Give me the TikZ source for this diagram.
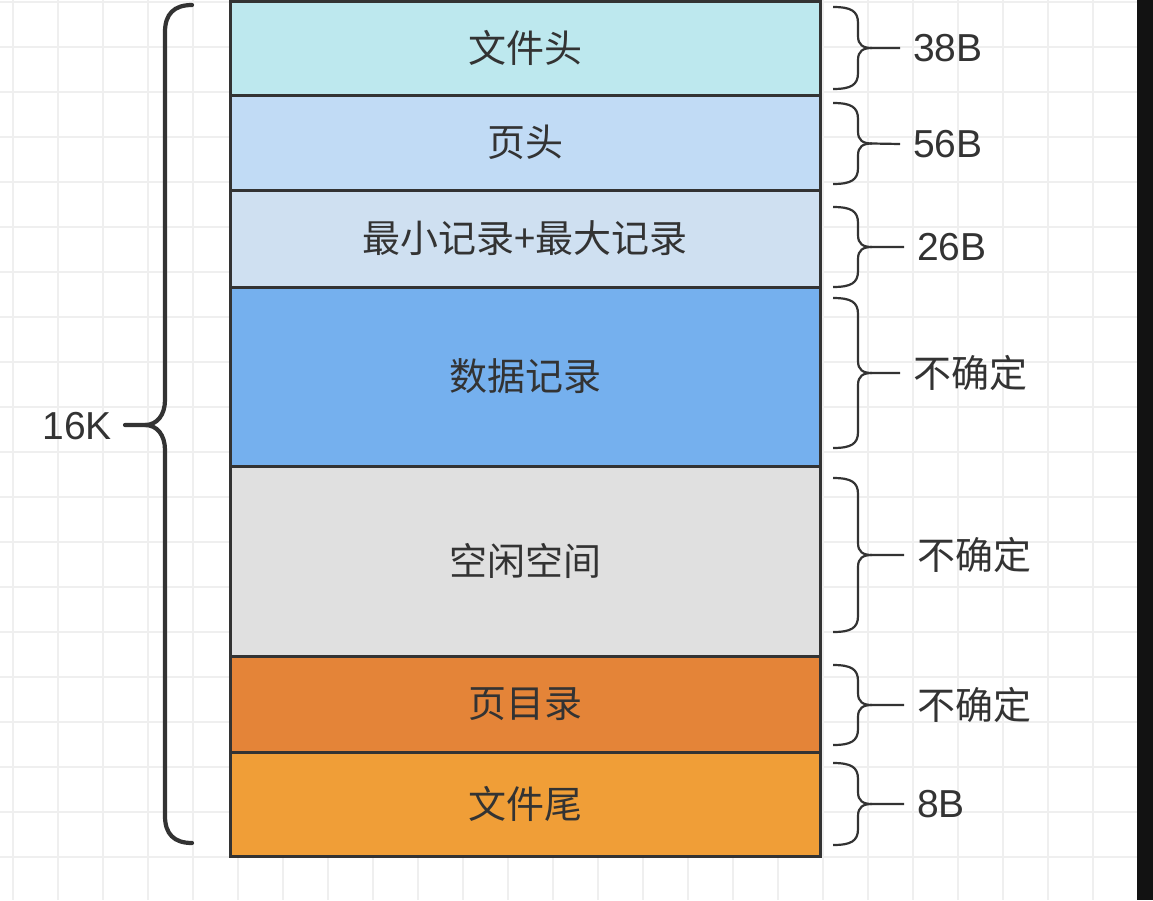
\documentclass[tikz,border=0pt]{standalone}
\usepackage{fontspec}
\setmainfont{Liberation Sans}
\newfontfamily\cjk{Noto Sans CJK SC}

\definecolor{linea}{HTML}{333333}
\definecolor{texto}{HTML}{333333}
\definecolor{rejilla}{HTML}{EFEFEF}
\definecolor{cabecera}{HTML}{BDE8EE}
\definecolor{pagina}{HTML}{C1DBF5}
\definecolor{minmax}{HTML}{CFE0F1}
\definecolor{datos}{HTML}{75B0EE}
\definecolor{libre}{HTML}{E0E0E0}
\definecolor{directorio}{HTML}{E48438}
\definecolor{cola}{HTML}{F09E37}

\tikzset{
  bloque/.style={draw=linea, line width=3pt, minimum width=590pt, inner sep=0pt,
    outer sep=0pt, text=texto, font=\cjk\fontsize{38}{44}\selectfont},
  llave/.style={draw=linea, line width=2.2pt},
  etiqueta/.style={anchor=west, inner sep=0pt, text=texto, font=\fontsize{39}{44}\selectfont},
  etiquetacjk/.style={etiqueta, font=\cjk\fontsize{38}{44}\selectfont}
}

% llave derecha: arriba, abajo, nodo de la etiqueta
\newcommand{\llave}[3]{%
  \draw[llave] (833,#1) .. controls (851,#1) and (858,#1+4) .. (858,#1+16)
    -- (858,{(#1+#2)/2-12}) .. controls (858,{(#1+#2)/2-3}) and (863,{(#1+#2)/2}) .. (872,{(#1+#2)/2})
    -- ([xshift=-13pt]#3.west);
  \draw[llave] (872,{(#1+#2)/2}) .. controls (863,{(#1+#2)/2}) and (858,{(#1+#2)/2+3}) .. (858,{(#1+#2)/2+12})
    -- (858,#2-16) .. controls (858,#2-4) and (851,#2) .. (833,#2);
}

\begin{document}
\begin{tikzpicture}[x=1pt, y=-1pt]
    \useasboundingbox (0,0) rectangle (1153,900);
    % Rejilla de fondo
    \foreach \x in {13,58,...,1138} \draw[rejilla, line width=2pt] (\x,0) -- (\x,900);
    \foreach \y in {2,47,...,900} \draw[rejilla, line width=2pt] (0,\y) -- (1153,\y);
    \fill[black!93] (1137,0) rectangle (1153,900);

    % Bloques de la pagina
    \node[bloque, fill=cabecera, minimum height=94pt] (b1) at (525,48) {文件头};
    \node[bloque, fill=pagina, minimum height=95pt] (b2) at (525,142.5) {页头};
    \node[bloque, fill=minmax, minimum height=97pt] (b3) at (525,238.5) {最小记录+最大记录};
    \node[bloque, fill=datos, minimum height=179pt] (b4) at (525,376.5) {数据记录};
    \node[bloque, fill=libre, minimum height=190pt] (b5) at (525,561) {空闲空间};
    \node[bloque, fill=directorio, minimum height=96pt] (b6) at (525,704) {页目录};
    \node[bloque, fill=cola, minimum height=104pt] (b7) at (525,804) {文件尾};

    % Etiquetas de tamano
    \node[etiqueta] (t1) at (913,48) {38B};
    \node[etiqueta] (t2) at (913,144) {56B};
    \node[etiqueta] (t3) at (917,247) {26B};
    \node[etiquetacjk] (t4) at (913,373) {不确定};
    \node[etiquetacjk] (t5) at (917,555) {不确定};
    \node[etiquetacjk] (t6) at (917,705) {不确定};
    \node[etiqueta] (t7) at (917,804) {8B};

    % Llaves derechas
    \llave{7}{89}{t1}
    \llave{103}{184}{t2}
    \llave{207}{287}{t3}
    \llave{298}{448}{t4}
    \llave{478}{632}{t5}
    \llave{665}{745}{t6}
    \llave{763}{845}{t7}

    % Llave grande de la izquierda
    \node[etiqueta, anchor=east] (total) at (112,426) {16K};
    \draw[llave, line width=4.2pt, line cap=round] (192,5) .. controls (174,5) and (165,14) .. (165,32)
        -- (165,400) .. controls (165,415) and (157,425) .. (145,425) -- ([xshift=13pt]total.east |- 0,425);
    \draw[llave, line width=4.2pt, line cap=round] (145,425) .. controls (157,425) and (165,435) .. (165,450)
        -- (165,816) .. controls (165,834) and (174,843) .. (192,843);
\end{tikzpicture}
\end{document}
